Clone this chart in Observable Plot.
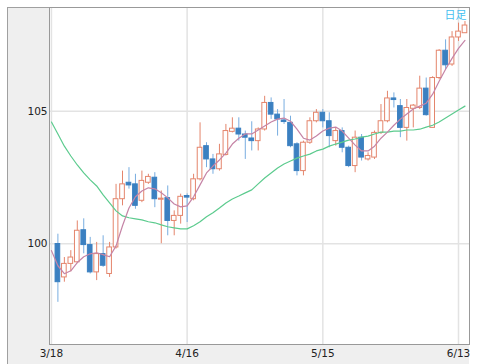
<!DOCTYPE html>
<html><head><meta charset="utf-8">
<script src="https://cdn.jsdelivr.net/npm/d3@7"></script>
<script src="https://cdn.jsdelivr.net/npm/@observablehq/plot@0.6"></script>
<style>
body{margin:0;background:#fff;}
#wrap{position:relative;width:478px;height:364px;overflow:hidden;}
#bg{position:absolute;left:7px;top:7px;width:462px;height:357px;background:#efefef;border-left:1px solid #a0a0a0;border-top:1px solid #a0a0a0;box-sizing:border-box;}
#chart{position:absolute;left:0;top:0;}
</style></head><body>
<div id="wrap"><div id="bg"></div><div id="chart"></div></div>
<script>
const title = "日足";
// daily candles, trading-day index 1..64 (index 0 = 3/18)
const opens = [99.99,98.73,99.24,99.30,100.51,99.95,98.92,99.61,98.86,99.86,
 101.68,102.30,102.24,101.62,102.30,102.49,101.66,101.72,100.86,101.05,
 101.80,101.68,102.43,103.68,103.18,102.81,103.35,104.22,104.34,104.12,
 103.97,103.87,104.31,105.31,104.87,104.65,104.56,103.75,102.74,103.81,
 104.62,104.94,104.62,103.87,104.25,103.62,102.93,104.00,103.18,103.25,
 104.18,104.62,105.48,105.19,104.37,105.09,105.12,105.85,104.37,106.25,
 107.28,106.76,107.78,107.94];
const highs = [100.36,99.48,99.74,100.86,100.94,100.24,100.05,100.30,100.05,102.24,
 102.74,102.87,102.62,102.74,102.62,102.68,101.99,102.18,101.24,101.87,
 101.88,102.62,104.56,103.81,103.37,103.75,104.50,104.75,104.75,104.25,
 104.60,104.37,105.56,105.50,105.06,105.44,104.81,103.81,103.87,104.75,
 105.06,105.06,104.94,104.37,104.37,103.68,104.25,104.12,103.43,104.25,
 105.25,105.75,105.69,105.44,105.44,105.25,106.32,106.25,106.30,107.32,
 107.69,108.00,108.32,108.38];
const lows = [97.79,98.55,98.94,99.25,99.62,98.86,98.61,99.11,98.73,99.80,
 101.43,102.06,101.30,101.55,102.24,101.36,100.00,100.30,100.30,100.74,
 100.80,101.62,102.37,102.87,102.62,102.74,103.31,104.18,103.87,103.18,
 103.50,103.50,104.25,104.69,104.06,104.50,103.62,102.56,102.56,103.75,
 104.56,104.37,103.62,103.68,103.43,102.87,102.68,103.12,103.12,103.18,
 104.12,104.56,105.12,104.00,103.87,104.37,105.06,104.81,104.37,106.19,
 106.57,106.69,107.63,107.94];
const closes = [98.55,99.24,99.48,100.49,99.95,98.92,99.61,99.17,99.86,101.68,
 102.24,102.20,101.43,102.37,102.52,101.68,101.70,100.86,101.05,101.77,
 101.74,102.43,103.62,103.18,102.81,103.37,104.25,104.34,104.12,104.00,
 103.87,104.31,105.31,104.87,104.69,104.59,103.68,102.74,103.81,104.62,
 104.94,104.62,104.06,104.25,103.62,102.93,104.00,103.25,103.31,104.18,
 104.62,105.48,105.42,104.37,105.12,105.21,105.85,104.85,106.25,107.28,
 106.73,107.78,108.00,108.23];
// moving averages, index 0..64
const maShort = [99.74,99.17,98.87,98.98,99.29,99.51,99.62,99.66,99.59,99.51,
 99.92,100.68,101.35,101.77,101.99,102.11,102.07,101.92,101.73,101.50,
 101.39,101.43,101.77,102.22,102.67,102.93,103.16,103.42,103.76,103.98,
 104.14,104.14,104.29,104.44,104.59,104.70,104.74,104.62,104.32,103.98,
 103.91,104.06,104.25,104.36,104.40,104.25,103.98,103.72,103.50,103.50,
 103.68,103.98,104.21,104.47,104.70,104.89,105.08,105.19,105.30,105.64,
 106.13,106.58,106.99,107.37,107.67];
const maLong = [104.59,104.14,103.68,103.31,102.97,102.67,102.41,102.18,101.84,101.54,
 101.24,101.05,100.98,100.94,100.90,100.83,100.79,100.71,100.64,100.60,
 100.56,100.56,100.68,100.83,101.02,101.17,101.35,101.54,101.69,101.80,
 101.92,102.03,102.26,102.48,102.67,102.86,103.01,103.12,103.23,103.31,
 103.38,103.50,103.57,103.68,103.76,103.83,103.91,103.95,104.02,104.06,
 104.14,104.21,104.21,104.25,104.25,104.29,104.29,104.32,104.40,104.47,
 104.59,104.74,104.89,105.04,105.19];
const tickIndex = [0, 21, 42, 63];
const tickLabels = ["3/18", "4/16", "5/15", "6/13"];
const yTicks = [100, 105];

const candles = opens.map((o, k) => ({i: k + 1, open: o, high: highs[k], low: lows[k], close: closes[k]}));
const ups = candles.filter(d => d.close >= d.open);
const downs = candles.filter(d => d.close < d.open);
const maRows = maShort.map((v, i) => ({i, short: v, long: maLong[i]}));
const half = 0.36;
const upColor = "#e4856c", downColor = "#3b80c1", downWick = "#78ade0";

const chart = Plot.plot({
  width: 478, height: 364,
  marginLeft: 49, marginRight: 9, marginTop: 7, marginBottom: 20,
  style: {background: "transparent", fontFamily: "DejaVu Sans, Verdana, sans-serif", fontSize: "10px", color: "#333"},
  x: {domain: [-0.3, 64.7]},
  y: {domain: [96.2, 108.91]},
  marks: [
    Plot.frame({fill: "white", stroke: "none"}),
    Plot.gridY(yTicks, {stroke: "#e3e3e3", strokeOpacity: 1, strokeWidth: 1.5}),
    Plot.gridX(tickIndex, {stroke: "#e3e3e3", strokeOpacity: 1, strokeWidth: 1.5}),
    Plot.ruleX(downs, {x: "i", y1: "low", y2: "high", stroke: downWick}),
    Plot.ruleX(ups, {x: "i", y1: "low", y2: "high", stroke: upColor}),
    Plot.rect(ups, {x1: d => d.i - half, x2: d => d.i + half, y1: "open", y2: "close", fill: "white", stroke: upColor}),
    Plot.rect(downs, {x1: d => d.i - half, x2: d => d.i + half, y1: "open", y2: "close", fill: downColor, stroke: downColor}),
    Plot.line(maRows, {x: "i", y: "long", stroke: "#5ccb8e", strokeWidth: 1.2, clip: true}),
    Plot.line(maRows, {x: "i", y: "short", stroke: "#c584a6", strokeWidth: 1.2, clip: true}),
    Plot.text([title], {frameAnchor: "top-right", dx: -3, dy: 4, fill: "#45bff0", fontSize: 11, fontFamily: "Noto Sans CJK JP"}),
    Plot.frame({stroke: "#999"}),
    Plot.axisY(yTicks, {tickSize: 0, tickPadding: 2, fontSize: 10.5, fill: "#222", label: null}),
    Plot.axisX(tickIndex, {tickSize: 0, tickPadding: 5, fontSize: 10.5, fill: "#222", label: null,
      tickFormat: v => tickLabels[tickIndex.indexOf(v)]})
  ]
});
document.getElementById("chart").appendChild(chart);
</script>
</body></html>
